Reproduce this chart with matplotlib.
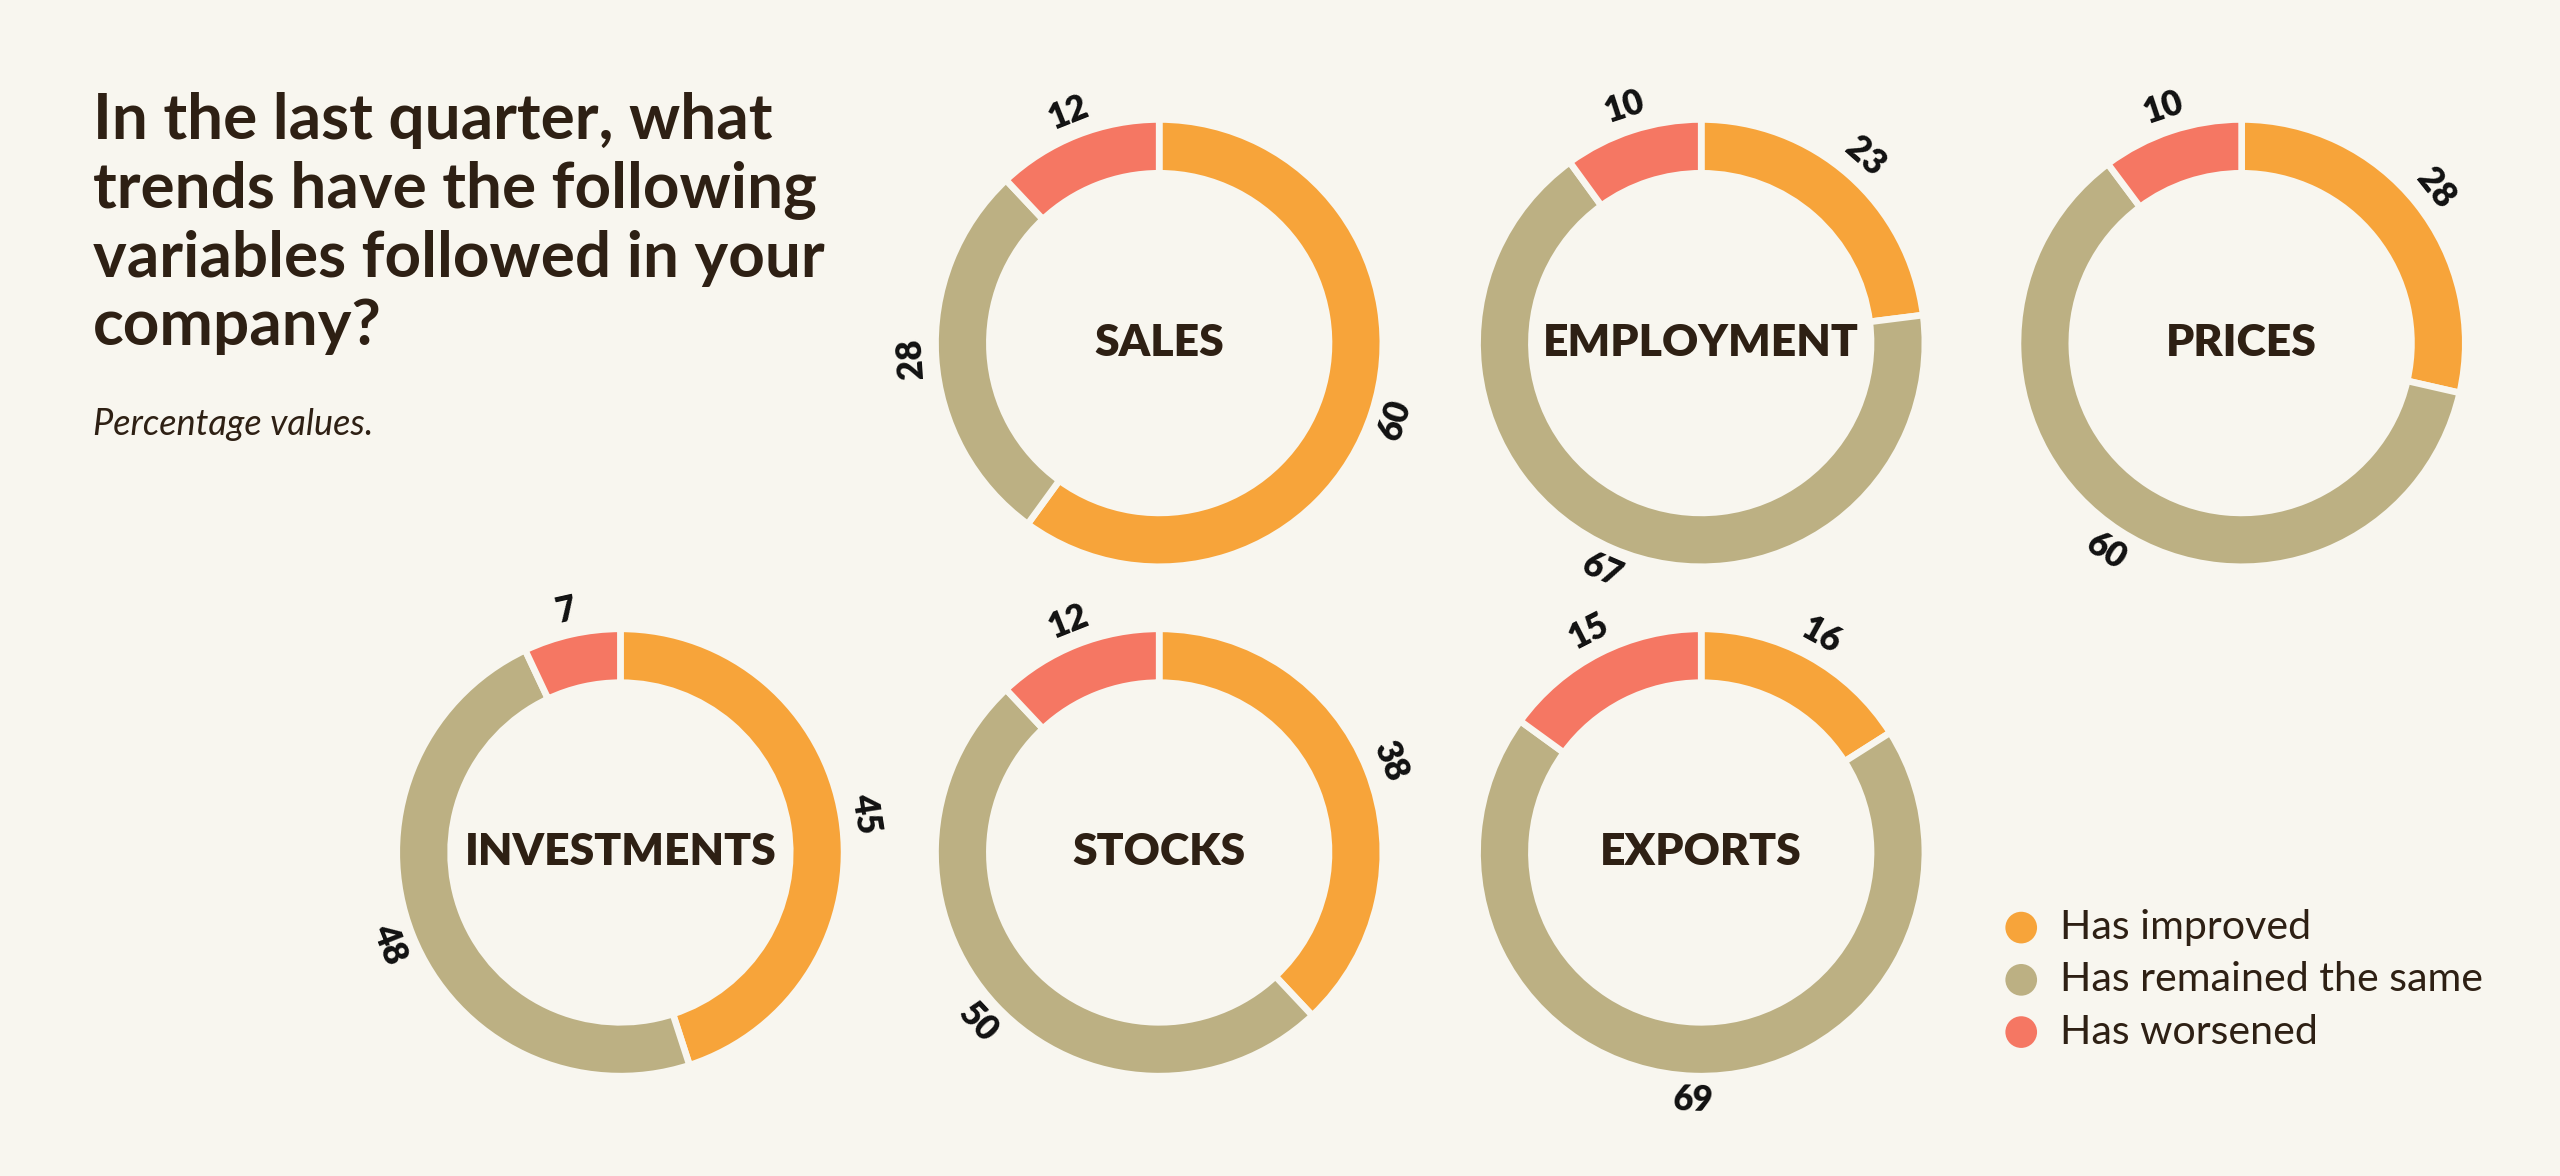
import numpy as np
import matplotlib.pyplot as plt

plt.rcParams['font.family'] = ['Lato', 'DejaVu Sans']

# Data (percentages)
categories = ["SALES", "EMPLOYMENT", "PRICES", "INVESTMENTS", "STOCKS", "EXPORTS"]
improved = [60, 23, 28, 45, 38, 16]
same = [28, 67, 60, 48, 50, 69]
worsened = [12, 10, 10, 7, 12, 15]
legend_labels = ["Has improved", "Has remained the same", "Has worsened"]

title = "In the last quarter, what\ntrends have the following\nvariables followed in your\ncompany?"
subtitle = "Percentage values."

# Layout (canvas units, 1568 x 720, y measured from the top)
centers = [(710, 210), (1042, 210), (1373, 210), (380, 522), (710, 522), (1042, 522)]
R = 137
W = 33
LR = 152

bg = "#F8F6EF"
txt = "#2E2014"
colors = ["#F7A43A", "#BCB083", "#F57763"]

fig = plt.figure(figsize=(12.8, 5.88), dpi=200, facecolor=bg)
ax = fig.add_axes([0, 0, 1, 1])
ax.set_facecolor(bg)

for i, name in enumerate(categories):
    vals = [improved[i], same[i], worsened[i]]
    cx, cy = centers[i][0], 720 - centers[i][1]
    ax.pie(vals, center=(cx, cy), radius=R, startangle=90, counterclock=False,
           colors=colors, wedgeprops=dict(width=W, edgecolor=bg, linewidth=2.4))
    total = sum(vals)
    cum = 0
    for v in vals:
        theta = (cum + v / 2) / total * 360
        cum += v
        a = np.deg2rad(90 - theta)
        rot = (-theta) % 180
        if rot > 95:
            rot -= 180
        ax.text(cx + LR * np.cos(a), cy + LR * np.sin(a), str(v), rotation=rot,
                rotation_mode='anchor', ha='center', va='center',
                fontsize=12.5, fontweight='heavy', color='#111111')
    ax.text(cx, cy, name, ha='center', va='center', fontsize=16,
            fontweight='heavy', color=txt)

ax.text(57, 720 - 56, title, ha='left', va='top', fontsize=23, fontweight='bold',
        color=txt, linespacing=1.24)
ax.text(57, 720 - 260, subtitle, ha='left', va='center', fontsize=13,
        style='italic', color=txt)

# legend
for k, lab in enumerate(legend_labels):
    y = 720 - (568 + 32 * k)
    ax.scatter([1238], [y], s=130, color=colors[k], edgecolors='none')
    ax.text(1262, y, lab, ha='left', va='center', fontsize=14.8, color=txt)

ax.set_xlim(0, 1568)
ax.set_ylim(0, 720)
ax.set_aspect('equal')
ax.axis('off')

fig.savefig('out.png', dpi=200, facecolor=bg)
